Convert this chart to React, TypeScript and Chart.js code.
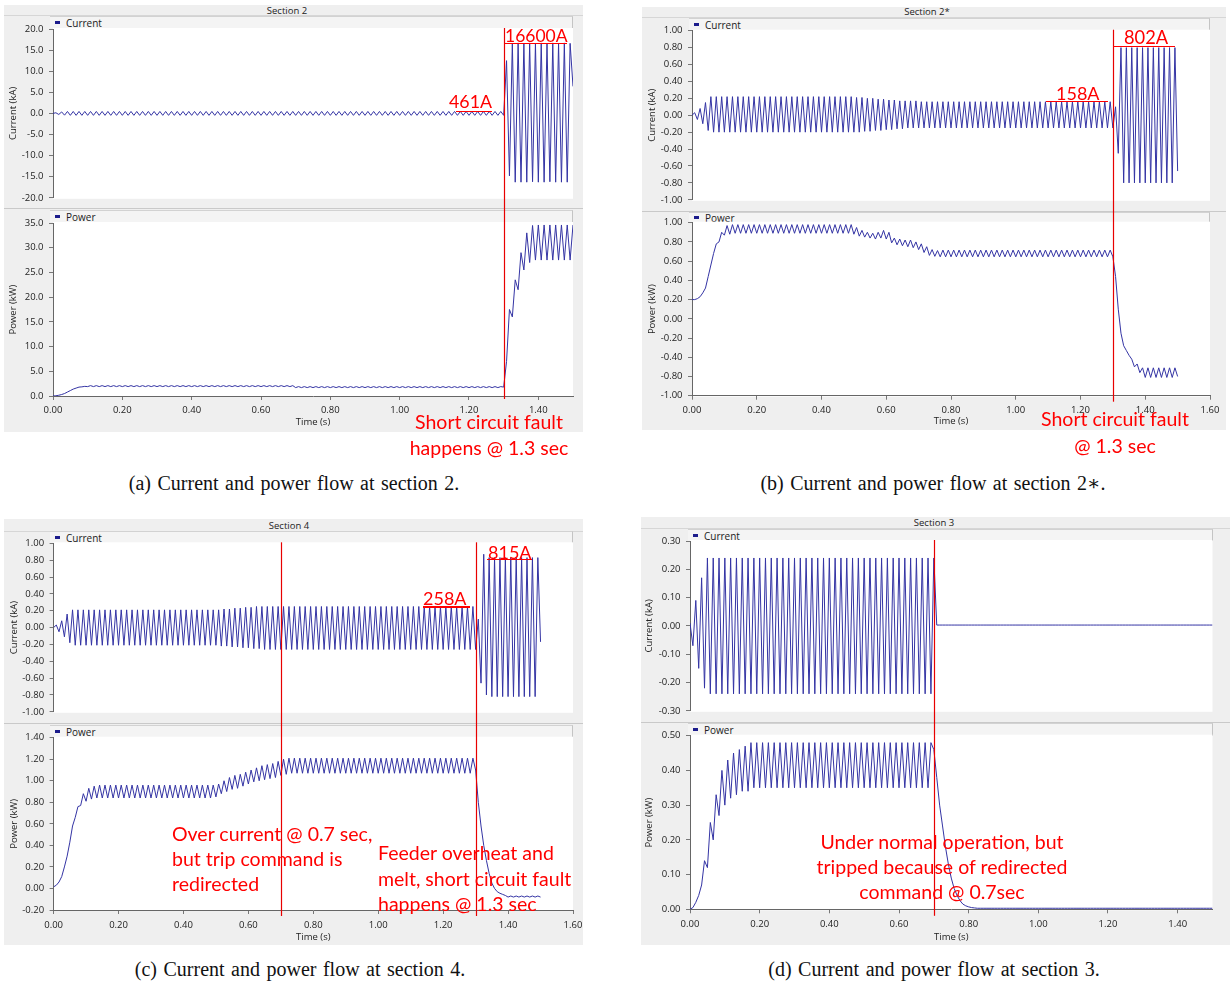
import React, { useEffect, useRef } from "react";
import { Chart, registerables } from "chart.js";

Chart.register(...registerables);

// ---------------- DATA ----------------
// One sample per half-cycle of the 60 Hz waveform (peak / trough values)
const SAMPLE_STEP_S = 1 / 120;

// Section 2 : current (kA)
const sec2CurrentKA = [
  0, .15, -.25, .35, -.42, .46, -.46, .46, -.46, .46, -.46, .46,
  -.46, .46, -.46, .46, -.46, .46, -.46, .46, -.46, .46, -.46, .46,
  -.46, .46, -.46, .46, -.46, .46, -.46, .46, -.46, .46, -.46, .46,
  -.46, .46, -.46, .46, -.46, .46, -.46, .46, -.46, .46, -.46, .46,
  -.46, .46, -.46, .46, -.46, .46, -.46, .46, -.46, .46, -.46, .46,
  -.46, .46, -.46, .46, -.46, .46, -.46, .46, -.46, .46, -.46, .46,
  -.46, .46, -.46, .46, -.46, .46, -.46, .46, -.46, .46, -.46, .46,
  -.46, .46, -.46, .46, -.46, .46, -.46, .46, -.46, .46, -.46, .46,
  -.46, .46, -.46, .46, -.46, .46, -.46, .46, -.46, .46, -.46, .46,
  -.46, .46, -.46, .46, -.46, .46, -.46, .46, -.46, .46, -.46, .46,
  -.46, .46, -.46, .46, -.46, .46, -.46, .46, -.46, .46, -.46, .46,
  -.46, .46, -.46, .46, -.46, .46, -.46, .46, -.46, .46, -.46, .46,
  -.46, .46, -.46, .46, -.46, .46, -.46, .46, -.46, .46, -.46, .46,
  -.46, 12.5, -14.8, 16.6, -16.3, 16.7, -16.3, 16.6, -16.3, 16.7, -16.2, 16.6,
  -16.3, 16.7, -16.3, 16.6, -16.2, 16.7, -16.3, 16.6, -16.3, 16.7, -16.3, 16.6,
  6.4,
];
// Section 2 : power (kW)
const sec2PowerKW = [
  0, .05, .15, .3, .5, .8, 1.1, 1.4, 1.6, 1.8, 1.85, 1.95,
  1.9, 2.1, 1.9, 2.1, 1.9, 2.1, 1.9, 2.1, 1.9, 2.1, 1.9, 2.1,
  1.9, 2.1, 1.9, 2.1, 1.9, 2.1, 1.9, 2.1, 1.9, 2.1, 1.9, 2.1,
  1.9, 2.1, 1.9, 2.1, 1.9, 2.1, 1.9, 2.1, 1.9, 2.1, 1.9, 2.1,
  1.9, 2.1, 1.9, 2.1, 1.9, 2.1, 1.9, 2.1, 1.9, 2.1, 1.9, 2.1,
  1.9, 2.1, 1.9, 2.1, 1.9, 2.1, 1.9, 2.1, 1.9, 2.1, 1.9, 2.1,
  1.9, 2.1, 1.9, 2.1, 1.9, 2.1, 1.9, 2.1, 1.9, 2.1, 1.9, 2.1,
  1.7, 1.9, 1.7, 1.9, 1.7, 1.9, 1.7, 1.9, 1.7, 1.9, 1.7, 1.9,
  1.7, 1.9, 1.7, 1.9, 1.7, 1.9, 1.7, 1.9, 1.7, 1.9, 1.7, 1.9,
  1.7, 1.9, 1.7, 1.9, 1.7, 1.9, 1.7, 1.9, 1.7, 1.9, 1.7, 1.9,
  1.7, 1.9, 1.7, 1.9, 1.7, 1.9, 1.7, 1.9, 1.7, 1.9, 1.7, 1.9,
  1.7, 1.9, 1.7, 1.9, 1.7, 1.9, 1.7, 1.9, 1.7, 1.9, 1.7, 1.9,
  1.7, 1.9, 1.7, 1.9, 1.7, 1.9, 1.7, 1.9, 1.7, 1.9, 1.7, 1.9,
  1.8, 7, 17.5, 16, 23.5, 21.5, 29, 25.5, 33, 27, 34.5, 27.5,
  34.6, 27.5, 34.6, 27.5, 34.6, 27.5, 34.6, 27.5, 34.6, 27.5, 34.6, 27.5,
  34.6,
];

// Section 2* : current (kA)
const sec2sCurrentKA = [
  0, .03, -.05, .08, -.1, .15, -.18, .22, -.2, .22, -.2, .22,
  -.2, .22, -.2, .22, -.2, .22, -.2, .22, -.2, .22, -.2, .22,
  -.2, .22, -.2, .22, -.2, .22, -.2, .22, -.2, .22, -.2, .22,
  -.2, .22, -.2, .22, -.2, .22, -.2, .22, -.2, .22, -.2, .22,
  -.2, .22, -.2, .22, -.2, .22, -.2, .22, -.2, .22, -.2, .22,
  -.2, .21, -.2, .21, -.19, .2, -.19, .2, -.18, .19, -.18, .19,
  -.17, .18, -.17, .18, -.16, .17, -.16, .17, -.15, .17, -.15, .17,
  -.15, .16, -.15, .16, -.15, .16, -.15, .16, -.15, .16, -.15, .16,
  -.15, .16, -.15, .16, -.15, .16, -.15, .16, -.15, .16, -.15, .16,
  -.15, .16, -.15, .16, -.15, .16, -.15, .16, -.15, .16, -.15, .16,
  -.15, .16, -.15, .16, -.15, .16, -.15, .16, -.15, .16, -.15, .16,
  -.15, .16, -.15, .16, -.15, .16, -.15, .16, -.15, .16, -.15, .16,
  -.15, .16, -.15, .16, -.15, .16, -.15, .16, -.15, .16, -.15, .16,
  -.15, .1, -.45, .8, -.8, .8, -.8, .8, -.8, .8, -.8, .8,
  -.8, .8, -.8, .8, -.8, .8, -.8, .8, -.8, .8, -.8, .8,
  -.66,
];
// Section 2* : power (kW)
const sec2sPowerKW = [
  .2, .2, .21, .23, .27, .32, .44, .56, .68, .78, .8, .9,
  .87, .97, .88, .98, .89, .98, .89, .98, .89, .98, .89, .98,
  .89, .98, .89, .98, .89, .98, .89, .98, .89, .98, .89, .98,
  .89, .98, .89, .98, .89, .98, .89, .98, .89, .98, .89, .98,
  .89, .98, .89, .98, .89, .98, .89, .98, .89, .98, .89, .98,
  .88, .95, .86, .92, .85, .9, .84, .89, .83, .9, .84, .92,
  .83, .9, .79, .84, .77, .83, .76, .82, .75, .82, .74, .8,
  .72, .78, .69, .75, .66, .72, .65, .71, .645, .715, .645, .715,
  .645, .715, .645, .715, .645, .715, .645, .715, .645, .715, .645, .715,
  .645, .715, .645, .715, .645, .715, .645, .715, .645, .715, .645, .715,
  .645, .715, .645, .715, .645, .715, .645, .715, .645, .715, .645, .715,
  .645, .715, .645, .715, .645, .715, .645, .715, .645, .715, .645, .715,
  .645, .715, .645, .715, .645, .715, .645, .715, .645, .715, .645, .715,
  .645, .44, .1, -.15, -.28, -.33, -.38, -.42, -.5, -.47, -.56, -.51,
  -.61, -.51, -.61, -.51, -.61, -.51, -.61, -.51, -.61, -.51, -.61, -.51,
  -.6,
];

// Section 4 : current (kA)
const sec4CurrentKA = [
  0, .03, -.05, .08, -.11, .16, -.18, .21, -.21, .21, -.21, .21,
  -.21, .21, -.21, .21, -.21, .21, -.21, .21, -.21, .21, -.21, .21,
  -.21, .21, -.21, .21, -.21, .21, -.21, .21, -.21, .21, -.21, .21,
  -.21, .21, -.21, .21, -.21, .21, -.21, .21, -.21, .21, -.21, .21,
  -.21, .21, -.21, .21, -.21, .21, -.21, .21, -.21, .21, -.21, .21,
  -.21, .21, -.22, .22, -.22, .22, -.23, .23, -.23, .23, -.24, .24,
  -.24, .24, -.25, .25, -.25, .25, -.26, .25, -.26, .25, -.26, .25,
  -.26, .25, -.26, .25, -.26, .25, -.26, .25, -.26, .25, -.26, .25,
  -.26, .25, -.26, .25, -.26, .25, -.26, .25, -.26, .25, -.26, .25,
  -.26, .25, -.26, .25, -.26, .25, -.26, .25, -.26, .25, -.26, .25,
  -.26, .25, -.26, .25, -.26, .25, -.26, .25, -.26, .25, -.26, .25,
  -.26, .25, -.26, .25, -.26, .25, -.26, .25, -.26, .25, -.26, .25,
  -.26, .25, -.26, .25, -.26, .25, -.26, .25, -.26, .25, -.26, .25,
  -.26, .1, -.66, .87, -.8, .83, -.82, .83, -.82, .83, -.82, .83,
  -.82, .83, -.82, .83, -.82, .83, -.82, .83, -.82, .83, -.82, .83,
  -.17,
];
// Section 4 : power (kW)
const sec4PowerKW = [
  .015, .03, .06, .11, .2, .3, .43, .58, .66, .76, .77, .88,
  .81, .93, .83, .95, .84, .96, .84, .96, .84, .96, .84, .96,
  .84, .96, .84, .96, .84, .96, .84, .96, .84, .96, .84, .96,
  .84, .96, .84, .96, .84, .96, .84, .96, .84, .96, .84, .96,
  .84, .96, .84, .96, .84, .96, .84, .96, .84, .96, .84, .96,
  .85, .97, .88, 1.0, .9, 1.03, .92, 1.05, .93, 1.06, .95, 1.08,
  .97, 1.1, .99, 1.12, 1.0, 1.14, 1.01, 1.15, 1.02, 1.16, 1.03, 1.18,
  1.05, 1.2, 1.06, 1.21, 1.07, 1.21, 1.07, 1.21, 1.07, 1.21, 1.07, 1.21,
  1.07, 1.21, 1.07, 1.21, 1.07, 1.21, 1.07, 1.21, 1.07, 1.21, 1.07, 1.21,
  1.07, 1.21, 1.07, 1.21, 1.07, 1.21, 1.07, 1.21, 1.07, 1.21, 1.07, 1.21,
  1.07, 1.21, 1.07, 1.21, 1.07, 1.21, 1.07, 1.21, 1.07, 1.21, 1.07, 1.21,
  1.07, 1.21, 1.07, 1.21, 1.07, 1.21, 1.07, 1.21, 1.07, 1.21, 1.07, 1.21,
  1.07, 1.21, 1.07, 1.21, 1.07, 1.21, 1.07, 1.21, 1.07, 1.21, 1.07, 1.21,
  1.1, .8, .58, .4, .26, .14, .05, 0, -.03, -.045, -.055, -.065,
  -.08, -.07, -.08, -.07, -.08, -.07, -.08, -.07, -.08, -.07, -.08, -.07,
  -.08,
];

// Section 3 : current (kA)
const sec3CurrentKA = [
  .01, -.07, .09, -.15, .17, -.22, .24, -.24, .24, -.24, .24, -.24,
  .24, -.24, .24, -.24, .24, -.24, .24, -.24, .24, -.24, .24, -.24,
  .24, -.24, .24, -.24, .24, -.24, .24, -.24, .24, -.24, .24, -.24,
  .24, -.24, .24, -.24, .24, -.24, .24, -.24, .24, -.24, .24, -.24,
  .24, -.24, .24, -.24, .24, -.24, .24, -.24, .24, -.24, .24, -.24,
  .24, -.24, .24, -.24, .24, -.24, .24, -.24, .24, -.24, .24, -.24,
  .24, -.24, .24, -.24, .24, -.24, .24, -.24, .24, -.24, .24, -.24,
  .24, .003, .003, .003, .003, .003, .003, .003, .003, .003, .003, .003,
  .003, .003, .003, .003, .003, .003, .003, .003, .003, .003, .003, .003,
  .003, .003, .003, .003, .003, .003, .003, .003, .003, .003, .003, .003,
  .003, .003, .003, .003, .003, .003, .003, .003, .003, .003, .003, .003,
  .003, .003, .003, .003, .003, .003, .003, .003, .003, .003, .003, .003,
  .003, .003, .003, .003, .003, .003, .003, .003, .003, .003, .003, .003,
  .003, .003, .003, .003, .003, .003, .003, .003, .003, .003, .003, .003,
  .003, .003, .003, .003, .003, .003, .003, .003, .003, .003, .003, .003,
  .003,
];
// Section 3 : power (kW)
const sec3PowerKW = [
  0, .005, .02, .04, .07, .14, .12, .25, .2, .33, .27, .4,
  .3, .43, .32, .45, .33, .46, .34, .47, .34, .48, .35, .48,
  .35, .48, .35, .48, .35, .48, .35, .48, .35, .48, .35, .48,
  .35, .48, .35, .48, .35, .48, .35, .48, .35, .48, .35, .48,
  .35, .48, .35, .48, .35, .48, .35, .48, .35, .48, .35, .48,
  .35, .48, .35, .48, .35, .48, .35, .48, .35, .48, .35, .48,
  .35, .48, .35, .48, .35, .48, .35, .48, .35, .48, .35, .48,
  .46, .38, .3, .24, .18, .13, .09, .06, .04, .025, .015, .01,
  .007, .005, .004, .003, .003, .003, .003, .003, .003, .003, .003, .003,
  .003, .003, .003, .003, .003, .003, .003, .003, .003, .003, .003, .003,
  .003, .003, .003, .003, .003, .003, .003, .003, .003, .003, .003, .003,
  .003, .003, .003, .003, .003, .003, .003, .003, .003, .003, .003, .003,
  .003, .003, .003, .003, .003, .003, .003, .003, .003, .003, .003, .003,
  .003, .003, .003, .003, .003, .003, .003, .003, .003, .003, .003, .003,
  .003, .003, .003, .003, .003, .003, .003, .003, .003, .003, .003, .003,
  .003,
];

// Event (red) marker times, seconds
const sec2Events = [1.3];
const sec2sEvents = [1.3];
const sec4Events = [0.7, 1.3];
const sec3Events = [0.7];

// Axis ranges [min, max, step]
const sec2CurrentRange = [-20, 20, 5];
const sec2PowerRange = [0, 35, 5];
const sec2sCurrentRange = [-1, 1, 0.2];
const sec2sPowerRange = [-0.8, 1.0, 0.2];
const sec4CurrentRange = [-1, 1, 0.2];
const sec4PowerRange = [-0.2, 1.4, 0.2];
const sec3CurrentRange = [-0.3, 0.3, 0.1];
const sec3PowerRange = [0, 0.5, 0.1];

// Tick labels (bottom -> top / left -> right)
const timeTickLabels = ["0.00", "0.20", "0.40", "0.60", "0.80", "1.00", "1.20", "1.40", "1.60"];
const sec2CurrentTicks = ["-20.0", "-15.0", "-10.0", "-5.0", "0.0", "5.0", "10.0", "15.0", "20.0"];
const sec2PowerTicks = ["0.0", "5.0", "10.0", "15.0", "20.0", "25.0", "30.0", "35.0"];
const unitCurrentTicks = ["-1.00", "-0.80", "-0.60", "-0.40", "-0.20", "0.00", "0.20", "0.40", "0.60", "0.80", "1.00"];
const sec2sPowerTicks = ["-1.00", "-0.80", "-0.40", "-0.20", "0.00", "0.20", "0.40", "0.60", "0.80", "1.00"];
const sec4PowerTicks = ["-0.20", "0.00", "0.20", "0.40", "0.60", "0.80", "1.00", "1.20", "1.40"];
const sec3CurrentTicks = ["-0.30", "-0.20", "-0.10", "0.00", "0.10", "0.20", "0.30"];
const sec3PowerTicks = ["0.00", "0.10", "0.20", "0.30", "0.40", "0.50"];

// ---------------- STYLE ----------------
const LINE_COLOR = "#3434a4";
const EVENT_COLOR = "#e80000";
const SMALL_FONT = "'Open Sans', 'Noto Sans', sans-serif";
const SMALL_SIZE = 9.5;
const RED_FONT = "Lato, 'Open Sans', sans-serif";
const PANEL_BG = "#efefef";

type Box = { left: number; top: number; width: number; height: number };
type Pad = { left: number; top: number; right: number; bottom: number };

const plotBgPlugin = {
  id: "plotBg",
  beforeDraw(chart: any) {
    const { ctx, chartArea: a } = chart;
    ctx.save();
    ctx.fillStyle = "#ffffff";
    ctx.fillRect(a.left, a.top - 1, a.right - a.left, a.bottom - a.top + 2);
    ctx.restore();
  },
};

const eventLinesPlugin = {
  id: "eventLines",
  afterDatasetsDraw(chart: any, _args: any, opts: any) {
    const { ctx, chartArea: a } = chart;
    const x = chart.scales.x;
    ctx.save();
    ctx.strokeStyle = EVENT_COLOR;
    ctx.lineWidth = 1.2;
    for (const t of opts.times as number[]) {
      const px = Math.round(x.getPixelForValue(t)) + 0.5;
      const y0 = opts.role === "upper" ? a.top - 1 : 0;
      const y1 = opts.role === "upper" ? chart.height : a.bottom + opts.extra;
      ctx.beginPath();
      ctx.moveTo(px, y0);
      ctx.lineTo(px, y1);
      ctx.stroke();
    }
    ctx.restore();
  },
};

type SubplotProps = {
  box: Box;
  pad: Pad;
  yWidth: number;
  yTitle: string;
  yTitlePad: number;
  yRange: number[];
  yLabels: string[];
  xMax: number;
  values: number[];
  events: number[];
  role: "upper" | "lower";
  xHeight?: number;
  xTickPad?: number;
  lineExtra?: number;
};

function Subplot(p: SubplotProps) {
  const ref = useRef<HTMLCanvasElement>(null);
  useEffect(() => {
    const canvas = ref.current;
    if (!canvas) return;
    const [ymin, ymax, ystep] = p.yRange;
    const points = p.values.map((v, i) => ({ x: i * SAMPLE_STEP_S, y: v }));
    const font = { family: SMALL_FONT, size: SMALL_SIZE };
    const showX = p.role === "lower";
    const chart = new Chart(canvas, {
      type: "line",
      data: {
        datasets: [
          {
            label: p.yTitle,
            data: points,
            borderColor: LINE_COLOR,
            borderWidth: 1,
            pointRadius: 0,
            tension: 0,
            fill: false,
          },
        ],
      },
      options: {
        animation: false,
        responsive: false,
        maintainAspectRatio: false,
        devicePixelRatio: 1,
        events: [],
        layout: { padding: p.pad },
        plugins: {
          legend: { display: false },
          tooltip: { enabled: false },
          eventLines: { times: p.events, role: p.role, extra: p.lineExtra ?? 0 },
        } as any,
        scales: {
          x: {
            type: "linear",
            min: 0,
            max: p.xMax,
            display: showX,
            afterFit: (s: any) => {
              if (showX) s.height = p.xHeight;
            },
            ticks: {
              stepSize: 0.2,
              includeBounds: false,
              autoSkip: false,
              maxRotation: 0,
              padding: p.xTickPad ?? 4,
              font,
              color: "#222",
              callback: (v: any) => timeTickLabels[Math.round(Number(v) / 0.2)] ?? "",
            },
            grid: { drawOnChartArea: false, drawTicks: true, tickLength: 4, color: "#777" },
            border: { display: true, color: "#666", width: 1 },
            title: {
              display: true,
              text: "Time (s)",
              font,
              color: "#222",
              padding: { top: 0, bottom: 0 },
            },
          },
          y: {
            type: "linear",
            min: ymin,
            max: ymax,
            afterFit: (s: any) => {
              s.width = p.yWidth;
            },
            ticks: {
              stepSize: ystep,
              includeBounds: false,
              autoSkip: false,
              padding: 5.5,
              font,
              color: "#222",
              callback: (v: any) => p.yLabels[Math.round((Number(v) - ymin) / ystep)] ?? "",
            },
            grid: { drawOnChartArea: false, drawTicks: true, tickLength: 4, color: "#777" },
            border: { display: true, color: "#666", width: 1 },
            title: {
              display: true,
              text: p.yTitle,
              font,
              color: "#222",
              padding: { top: p.yTitlePad, bottom: 0 },
            },
          },
        },
      } as any,
      plugins: [plotBgPlugin, eventLinesPlugin],
    });
    return () => chart.destroy();
  }, []);
  return (
    <canvas
      ref={ref}
      width={p.box.width}
      height={p.box.height}
      style={{ position: "absolute", left: p.box.left, top: p.box.top, width: p.box.width, height: p.box.height }}
    />
  );
}

type PanelSpec = {
  frame: Box;
  title: string;
  titleCx: number;
  titleCy: number;
  titleLineY: number;
  sepY: number;
  upperHeader: Box;
  lowerHeader: Box;
  xMax: number;
  events: number[];
  upper: { box: Box; pad: Pad; yWidth: number; yTitlePad: number; values: number[]; range: number[]; labels: string[] };
  lower: {
    box: Box; pad: Pad; yWidth: number; yTitlePad: number; values: number[]; range: number[]; labels: string[];
    xHeight: number; xTickPad: number; lineExtra: number;
  };
};

const PANELS: PanelSpec[] = [
  {
    frame: { left: 4, top: 5, width: 579, height: 427 },
    title: "Section 2", titleCx: 287, titleCy: 10.5, titleLineY: 15, sepY: 208,
    upperHeader: { left: 50, top: 16, width: 523, height: 12 },
    lowerHeader: { left: 50, top: 210, width: 523, height: 12 },
    xMax: 1.5, events: sec2Events,
    upper: {
      box: { left: 4, top: 16, width: 589, height: 193 }, pad: { left: 0, top: 13, right: 20, bottom: 6 },
      yWidth: 49, yTitlePad: 3.6, values: sec2CurrentKA, range: sec2CurrentRange, labels: sec2CurrentTicks,
    },
    lower: {
      box: { left: 4, top: 209, width: 589, height: 223 }, pad: { left: 0, top: 14, right: 20, bottom: 4 },
      yWidth: 49, yTitlePad: 3.6, values: sec2PowerKW, range: sec2PowerRange, labels: sec2PowerTicks,
      xHeight: 32, xTickPad: 4.3, lineExtra: 3,
    },
  },
  {
    frame: { left: 642, top: 7, width: 584, height: 423 },
    title: "Section 2*", titleCx: 927, titleCy: 12, titleLineY: 17, sepY: 210.5,
    upperHeader: { left: 689, top: 18, width: 521, height: 12.7 },
    lowerHeader: { left: 689, top: 212, width: 521, height: 10.7 },
    xMax: 1.6, events: sec2sEvents,
    upper: {
      box: { left: 642, top: 18, width: 588, height: 193 }, pad: { left: 0, top: 12.7, right: 20, bottom: 7 },
      yWidth: 50, yTitlePad: 5, values: sec2sCurrentKA, range: sec2sCurrentRange, labels: unitCurrentTicks,
    },
    lower: {
      box: { left: 642, top: 211, width: 588, height: 219 }, pad: { left: 0, top: 11.7, right: 20, bottom: 2.9 },
      yWidth: 50, yTitlePad: 5, values: sec2sPowerKW, range: sec2sPowerRange, labels: sec2sPowerTicks,
      xHeight: 31.4, xTickPad: 5.3, lineExtra: 6,
    },
  },
  {
    frame: { left: 4, top: 519, width: 579, height: 426 },
    title: "Section 4", titleCx: 289, titleCy: 525.5, titleLineY: 530.5, sepY: 723,
    upperHeader: { left: 50, top: 531, width: 523, height: 12.3 },
    lowerHeader: { left: 50, top: 725, width: 523, height: 12.7 },
    xMax: 1.6, events: sec4Events,
    upper: {
      box: { left: 4, top: 531, width: 589, height: 192 }, pad: { left: 0, top: 12.3, right: 20, bottom: 5.7 },
      yWidth: 49.6, yTitlePad: 4.3, values: sec4CurrentKA, range: sec4CurrentRange, labels: unitCurrentTicks,
    },
    lower: {
      box: { left: 4, top: 723, width: 589, height: 222 }, pad: { left: 0, top: 14.7, right: 20, bottom: 1.6 },
      yWidth: 49.6, yTitlePad: 4.3, values: sec4PowerKW, range: sec4PowerRange, labels: sec4PowerTicks,
      xHeight: 33.4, xTickPad: 5.3, lineExtra: 6,
    },
  },
  {
    frame: { left: 641, top: 517, width: 589, height: 428 },
    title: "Section 3", titleCx: 934, titleCy: 522.7, titleLineY: 527.7, sepY: 721.5,
    upperHeader: { left: 688, top: 528.5, width: 524.5, height: 12.5 },
    lowerHeader: { left: 688, top: 723, width: 524.5, height: 12.7 },
    xMax: 1.5, events: sec3Events,
    upper: {
      box: { left: 641, top: 528, width: 589, height: 194 }, pad: { left: 0, top: 13, right: 17.5, bottom: 6.3 },
      yWidth: 49, yTitlePad: 2.3, values: sec3CurrentKA, range: sec3CurrentRange, labels: sec3CurrentTicks,
    },
    lower: {
      box: { left: 641, top: 722, width: 589, height: 223 }, pad: { left: 0, top: 13.7, right: 17.5, bottom: 1.9 },
      yWidth: 49, yTitlePad: 2.3, values: sec3PowerKW, range: sec3PowerRange, labels: sec3PowerTicks,
      xHeight: 33.8, xTickPad: 5, lineExtra: 6.5,
    },
  },
];

type RedLabel = { text: string; left?: number; cx?: number; cy: number; lh?: number; size?: number };
const RED_LABELS: RedLabel[] = [
  { text: "16600A", left: 505, cy: 36, size: 17.5 },
  { text: "461A", left: 449, cy: 101, size: 17.8 },
  { text: "Short circuit fault\nhappens @ 1.3 sec", cx: 489, cy: 422, lh: 26 },
  { text: "802A", left: 1124, cy: 37.3, size: 18.3 },
  { text: "158A", left: 1056, cy: 93, size: 18 },
  { text: "Short circuit fault\n@ 1.3 sec", cx: 1115, cy: 418, lh: 27 },
  { text: "815A", left: 488, cy: 551.7, size: 18 },
  { text: "258A", left: 423, cy: 598, size: 18 },
  { text: "Over current @ 0.7 sec,\nbut trip command is\nredirected", left: 172, cy: 833, lh: 25 },
  { text: "Feeder overheat and\nmelt, short circuit fault\nhappens @ 1.3 sec", left: 378, cy: 853, lh: 25.5 },
  { text: "Under normal operation, but\ntripped because of redirected\ncommand @ 0.7sec", cx: 942, cy: 841.7, lh: 25 },
];
const RED_UNDERLINES: Box[] = [
  { left: 505, top: 42.5, width: 62, height: 1.5 },
  { left: 456, top: 110.5, width: 36, height: 1.5 },
  { left: 1113, top: 45.5, width: 62, height: 1.5 },
  { left: 1046, top: 100.5, width: 62, height: 1.5 },
  { left: 486.7, top: 558.5, width: 45, height: 1.5 },
  { left: 423, top: 606, width: 47, height: 1.5 },
];

const CAPTIONS = [
  { text: "(a) Current and power flow at section 2.", cx: 294, cy: 483 },
  { text: "(b) Current and power flow at section 2\u2217.", cx: 933, cy: 483 },
  { text: "(c) Current and power flow at section 4.", cx: 300, cy: 969 },
  { text: "(d) Current and power flow at section 3.", cx: 934, cy: 969 },
];

function HeaderBar({ b, label }: { b: Box; label: string }) {
  return (
    <div
      style={{
        position: "absolute",
        left: b.left,
        top: b.top,
        width: b.width,
        height: b.height,
        background: "#f4f4f4",
        borderTop: "1px solid #d2d2d2",
        borderRight: "1px solid #c4c4c4",
        boxSizing: "border-box",
      }}
    >
      <div style={{ position: "absolute", left: 5, top: b.height / 2 - 2, width: 5, height: 3, background: "#1c1c8c" }} />
      <div
        style={{
          position: "absolute",
          left: 16,
          top: 0,
          height: b.height,
          lineHeight: b.height + "px",
          fontFamily: SMALL_FONT,
          fontSize: SMALL_SIZE + 0.5,
          color: "#222",
          whiteSpace: "nowrap",
        }}
      >
        {label}
      </div>
    </div>
  );
}

function Panel({ s }: { s: PanelSpec }) {
  const f = s.frame;
  return (
    <>
      <div style={{ position: "absolute", left: f.left, top: f.top, width: f.width, height: f.height, background: PANEL_BG }} />
      <div style={{ position: "absolute", left: f.left, top: s.titleLineY, width: f.width, height: 1, background: "#d6d6d6" }} />
      <div style={{ position: "absolute", left: f.left, top: s.sepY, width: f.width, height: 1, background: "#c9c9c9" }} />
      <div
        style={{
          position: "absolute",
          left: s.titleCx - 100,
          width: 200,
          top: s.titleCy - 6,
          height: 12,
          lineHeight: "12px",
          textAlign: "center",
          fontFamily: SMALL_FONT,
          fontSize: SMALL_SIZE,
          color: "#222",
        }}
      >
        {s.title}
      </div>
      <HeaderBar b={s.upperHeader} label="Current" />
      <HeaderBar b={s.lowerHeader} label="Power" />
      <Subplot
        box={s.upper.box}
        pad={s.upper.pad}
        yWidth={s.upper.yWidth}
        yTitle="Current (kA)"
        yTitlePad={s.upper.yTitlePad}
        yRange={s.upper.range}
        yLabels={s.upper.labels}
        xMax={s.xMax}
        values={s.upper.values}
        events={s.events}
        role="upper"
      />
      <Subplot
        box={s.lower.box}
        pad={s.lower.pad}
        yWidth={s.lower.yWidth}
        yTitle="Power (kW)"
        yTitlePad={s.lower.yTitlePad}
        yRange={s.lower.range}
        yLabels={s.lower.labels}
        xMax={s.xMax}
        values={s.lower.values}
        events={s.events}
        role="lower"
        xHeight={s.lower.xHeight}
        xTickPad={s.lower.xTickPad}
        lineExtra={s.lower.lineExtra}
      />
    </>
  );
}

export default function App() {
  return (
    <div style={{ position: "absolute", left: 0, top: 0, width: 1230, height: 983, background: "#ffffff", overflow: "hidden" }}>
      {PANELS.map((s, i) => (
        <Panel key={i} s={s} />
      ))}
      {RED_LABELS.map((r, i) => {
        const lh = r.lh ?? 24;
        const style: React.CSSProperties = {
          position: "absolute",
          top: r.cy - lh / 2,
          lineHeight: lh + "px",
          fontFamily: RED_FONT,
          fontSize: r.size ?? 19.5,
          color: "#ff0000",
          whiteSpace: "pre",
        };
        if (r.cx !== undefined) {
          style.left = r.cx - 200;
          style.width = 400;
          style.textAlign = "center";
        } else {
          style.left = r.left;
        }
        return (
          <div key={"r" + i} style={style}>
            {r.text}
          </div>
        );
      })}
      {RED_UNDERLINES.map((u, i) => (
        <div key={"u" + i} style={{ position: "absolute", left: u.left, top: u.top, width: u.width, height: u.height, background: "#ff0000" }} />
      ))}
      {CAPTIONS.map((c, i) => (
        <div
          key={"c" + i}
          style={{
            position: "absolute",
            left: c.cx - 260,
            width: 520,
            top: c.cy - 12,
            lineHeight: "24px",
            textAlign: "center",
            fontFamily: "'Liberation Serif', 'DejaVu Serif', serif",
            fontSize: 20,
            wordSpacing: 1.5,
            color: "#111",
          }}
        >
          {c.text}
        </div>
      ))}
    </div>
  );
}
